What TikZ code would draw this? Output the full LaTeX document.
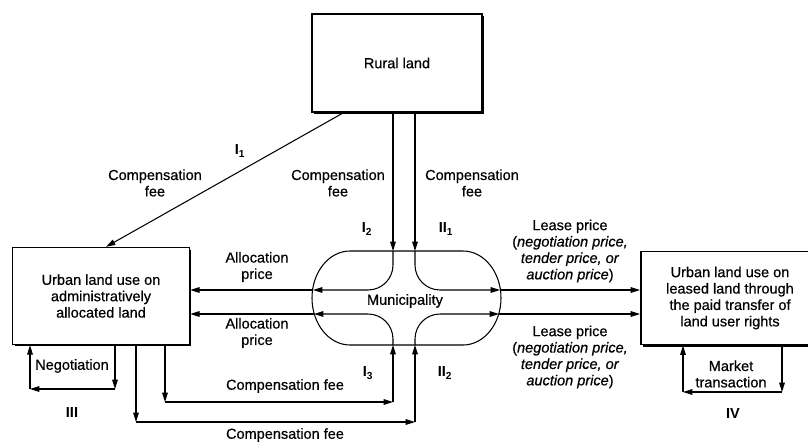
\documentclass[tikz,border=0pt]{standalone}
\usepackage{fontspec}
\setmainfont{Liberation Sans}[UprightFeatures={FakeBold=0.5},ItalicFeatures={FakeBold=0.5}]
\usetikzlibrary{arrows.meta,shadows}

\begin{document}
\begin{tikzpicture}[
  x=0.03cm, y=-0.03cm,
  >={Triangle[length=8pt,width=4.8pt]},
  line width=0.9pt,
  every node/.style={text=black,font=\fontsize{12.4}{14}\selectfont},
  landbox/.style={draw,line width=1.4pt,fill=white,align=center,
    drop shadow={shadow xshift=1.8pt,shadow yshift=-1.8pt,fill=black,opacity=1}},
  lbl/.style={align=center,inner sep=1pt},
  num/.style={font=\fontsize{12.4}{14}\selectfont\bfseries,inner sep=1pt}
]
  \useasboundingbox (0,0) rectangle (808,441);
  \clip (0,0) rectangle (808,441);

  \node[landbox,minimum width=5.1cm,minimum height=2.95cm] (rural) at (397,63) {Rural land};
  \node[landbox,minimum width=5.3cm,minimum height=2.9cm] (alloc) at (101,296)
    {Urban land use on\\administratively\\allocated land};
  \node[landbox,minimum width=5.35cm,minimum height=2.8cm] (lease) at (730,298)
    {Urban land use on\\leased land through\\the paid transfer of\\land user rights};

  \draw (350,251) -- (463,251)
    arc[start angle=90,end angle=-90,x radius=1.14cm,y radius=1.41cm]
    -- (350,345)
    arc[start angle=270,end angle=90,x radius=1.14cm,y radius=1.41cm] -- cycle;
  \node[lbl] (muni) at (405,301) {Municipality};

  \coordinate (tI) at (393,251);
  \coordinate (tII) at (415,251);
  \coordinate (bI) at (393,345);
  \coordinate (bII) at (415,345);
  \coordinate (lA) at (313,290);
  \coordinate (rA) at (500,290);
  \coordinate (lB) at (314,314);
  \coordinate (rB) at (499,314);
  \coordinate (dI) at (343,0);
  \coordinate (dA) at (106,0);
  \coordinate (ng1) at (115,389);
  \coordinate (ng2) at (30,389);
  \coordinate (cf1) at (165,402);
  \coordinate (cf2) at (136,422);
  \coordinate (mk1) at (782,392);
  \coordinate (mk2) at (683,392);

  \draw[->] (dI |- rural.south) -- (dA |- alloc.north);
  \draw[->] (tI |- rural.south) -- (tI);
  \draw[->] (tII |- rural.south) -- (tII);
  \draw[->,rounded corners=0.75cm] (tI) |- (lA);
  \draw[->] (lA) -- (lA -| alloc.east);
  \draw[->,rounded corners=0.75cm] (tII) |- (rA);
  \draw[->] (rA) -- (rA -| lease.west);
  \draw[->,rounded corners=0.75cm] (bI) |- (lB);
  \draw[->] (lB) -- (lB -| alloc.east);
  \draw[->,rounded corners=0.75cm] (bII) |- (rB);
  \draw[->] (rB) -- (rB -| lease.west);

  \draw[->] (ng1 |- alloc.south) -- (ng1);
  \draw[->] (ng1) -- (ng2);
  \draw[->] (ng2) -- (ng2 |- alloc.south);
  \draw[->] (cf1 |- alloc.south) -- (cf1);
  \draw[->] (cf1) -- (cf1 -| bI);
  \draw[->] (cf1 -| bI) -- (bI);
  \draw[->] (cf2 |- alloc.south) -- (cf2);
  \draw[->] (cf2) -- (cf2 -| bII);
  \draw[->] (cf2 -| bII) -- (bII);
  \draw[->] (mk1 |- lease.south) -- (mk1);
  \draw[->] (mk1) -- (mk2);
  \draw[->] (mk2) -- (mk2 |- lease.south);

  \node[num] (nI1) at (240,151) {I\textsubscript{1}};
  \node[num] (nI2) at (367,229) {I\textsubscript{2}};
  \node[num] (nII1) at (446,229) {II\textsubscript{1}};
  \node[num] (nI3) at (368,373) {I\textsubscript{3}};
  \node[num] (nII2) at (445,373) {II\textsubscript{2}};
  \node[num] (nIII) at (72,412) {III};
  \node[num] (nIV) at (733,413) {IV};

  \node[lbl] (cfa) at (155,183) {Compensation\\fee};
  \node[lbl] (cfb) at (338,183) {Compensation\\fee};
  \node[lbl] (cfc) at (472,183) {Compensation\\fee};
  \node[lbl] (apa) at (257,267) {Allocation\\price};
  \node[lbl] (apb) at (257,333) {Allocation\\price};
  \node[lbl] (cfd) at (285,386) {Compensation fee};
  \node[lbl] (cfe) at (285,435) {Compensation fee};
  \node[lbl] (neg) at (72,366) {Negotiation};
  \node[lbl] (mkt) at (731,374) {Market\\transaction};
  \node[lbl] (lpa) at (570,251)
    {Lease price\\(\textit{negotiation price,}\\\textit{tender price, or}\\\textit{auction price})};
  \node[lbl] (lpb) at (570,357)
    {Lease price\\(\textit{negotiation price,}\\\textit{tender price, or}\\\textit{auction price})};
\end{tikzpicture}
\end{document}
